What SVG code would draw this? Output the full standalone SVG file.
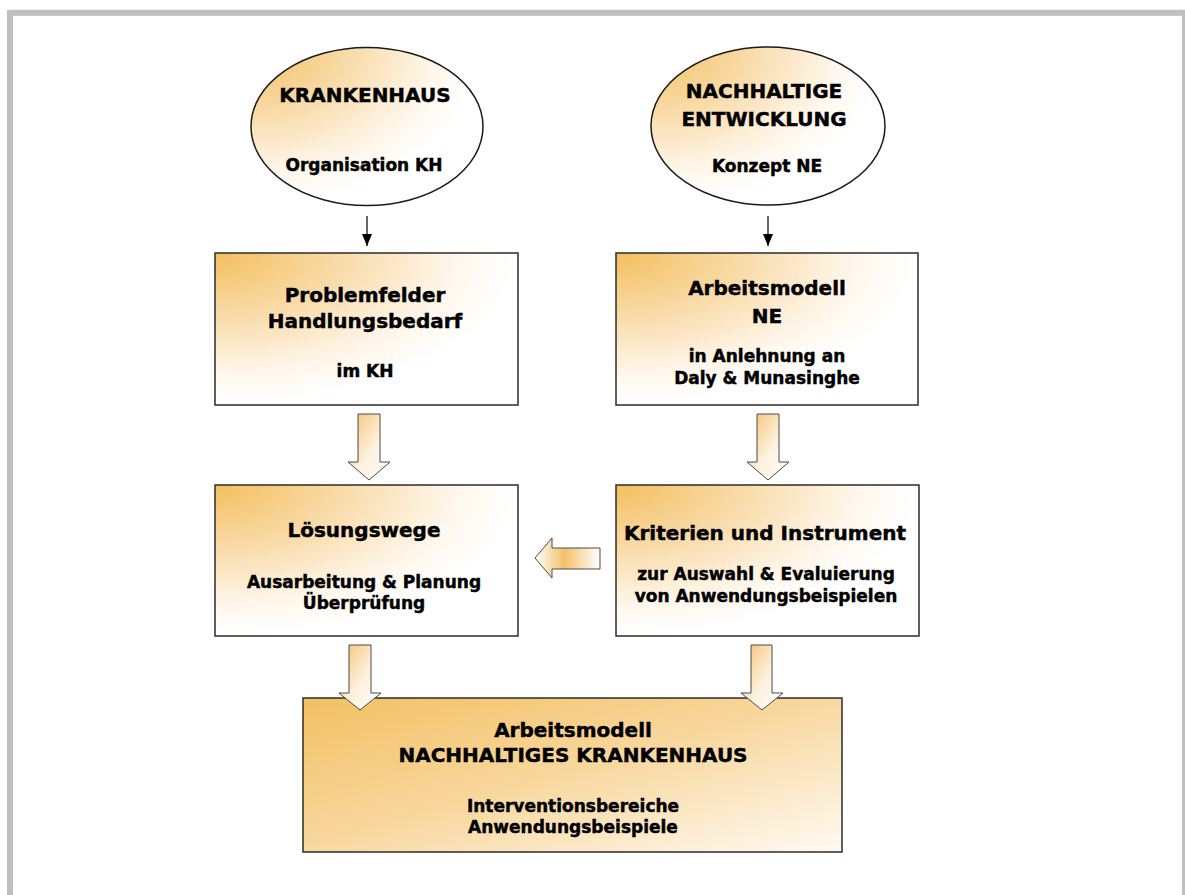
<svg xmlns="http://www.w3.org/2000/svg" width="1185" height="895" viewBox="0 0 1185 895">
  <defs>
    <radialGradient id="cornerFill" cx="0" cy="0" r="1" fx="0" fy="0">
      <stop offset="0" stop-color="#F3BF5E"/>
      <stop offset="0.45" stop-color="#F9DDAE"/>
      <stop offset="0.8" stop-color="#FFF7EC"/>
      <stop offset="1" stop-color="#FFFFFF"/>
    </radialGradient>
    <linearGradient id="mainFill" x1="0" y1="0" x2="1" y2="1">
      <stop offset="0" stop-color="#F2C062"/>
      <stop offset="0.5" stop-color="#F8D8A0"/>
      <stop offset="1" stop-color="#FFFAF2"/>
    </linearGradient>
    <linearGradient id="arrowFillV" x1="0" y1="0" x2="1" y2="1">
      <stop offset="0" stop-color="#F4C06A"/>
      <stop offset="0.55" stop-color="#FDF1DE"/>
      <stop offset="1" stop-color="#FFFFFF"/>
    </linearGradient>
    <linearGradient id="arrowFillH" x1="1" y1="0" x2="0" y2="0">
      <stop offset="0" stop-color="#FFFFFF"/>
      <stop offset="0.55" stop-color="#F4C06A"/>
      <stop offset="1" stop-color="#FFFFFF"/>
    </linearGradient>
    <!-- filled triangular head, drawn along +x so orient="auto" turns it with the line -->
    <marker id="head" viewBox="0 0 12 10" refX="12" refY="5" markerWidth="12" markerHeight="10" markerUnits="userSpaceOnUse" orient="auto">
      <path d="M0 0 L12 5 L0 10 Z" fill="#000"/>
    </marker>
  </defs>
  <style>
    .frame { fill: #FFFFFF; stroke: #C0C0C0; stroke-width: 6; }
    .box { fill: url(#cornerFill); stroke: #2B2B2B; stroke-width: 1.5; }
    .mainbox { fill: url(#mainFill); stroke: #2B2B2B; stroke-width: 1.5; }
    .oval { fill: url(#cornerFill); stroke: #1A1A1A; stroke-width: 1.5; }
    .blockV { fill: url(#arrowFillV); stroke: #4A4A4A; stroke-width: 1; }
    .blockH { fill: url(#arrowFillH); stroke: #4A4A4A; stroke-width: 1; }
    .thin { stroke: #000; stroke-width: 1.2; fill: none; }
    text { font-family: "DejaVu Sans", Verdana, sans-serif; font-weight: bold; fill: #000; stroke: #000; stroke-width: 0.45; text-anchor: middle; }
    .t { font-size: 20px; }
    .s { font-size: 17px; }
  </style>

  <rect class="frame" x="10" y="12.8" width="1175" height="900"/>

  <!-- upper ovals -->
  <g id="krankenhaus">
    <ellipse class="oval" cx="367" cy="126.5" rx="116" ry="79"/>
    <text class="t" x="365" y="102">KRANKENHAUS</text>
    <text class="s" x="364" y="171">Organisation KH</text>
  </g>
  <g id="nachhaltige-entwicklung">
    <ellipse class="oval" cx="768" cy="126" rx="117" ry="79"/>
    <text class="t" x="764" y="98">NACHHALTIGE</text>
    <text class="t" x="764" y="126">ENTWICKLUNG</text>
    <text class="s" x="767" y="172">Konzept NE</text>
  </g>

  <!-- middle row -->
  <g id="problemfelder">
    <rect class="box" x="215" y="253" width="303" height="152"/>
    <text class="t" x="365" y="302">Problemfelder</text>
    <text class="t" x="365" y="328">Handlungsbedarf</text>
    <text class="s" x="365" y="377">im KH</text>
  </g>
  <g id="arbeitsmodell-ne">
    <rect class="box" x="616" y="253" width="302" height="152"/>
    <text class="t" x="767" y="295">Arbeitsmodell</text>
    <text class="t" x="767" y="323">NE</text>
    <text class="s" x="767" y="362">in Anlehnung an</text>
    <text class="s" x="767" y="384">Daly &amp; Munasinghe</text>
  </g>

  <g id="loesungswege">
    <rect class="box" x="215" y="485" width="303" height="151"/>
    <text class="t" x="364" y="537">Lösungswege</text>
    <text class="s" x="364" y="588">Ausarbeitung &amp; Planung</text>
    <text class="s" x="364" y="609">Überprüfung</text>
  </g>
  <g id="kriterien">
    <rect class="box" x="616" y="485" width="303" height="151"/>
    <text class="t" x="765" y="540">Kriterien und Instrument</text>
    <text class="s" x="766" y="580">zur Auswahl &amp; Evaluierung</text>
    <text class="s" x="766" y="602">von Anwendungsbeispielen</text>
  </g>

  <!-- result -->
  <g id="nachhaltiges-krankenhaus">
    <rect class="mainbox" x="303" y="698" width="539" height="154"/>
    <text class="t" x="573" y="737">Arbeitsmodell</text>
    <text class="t" x="573" y="762">NACHHALTIGES KRANKENHAUS</text>
    <text class="s" x="573" y="812">Interventionsbereiche</text>
    <text class="s" x="573" y="833">Anwendungsbeispiele</text>
  </g>

  <!-- connectors -->
  <g id="connectors">
    <line class="thin" x1="367" y1="216" x2="367" y2="246" marker-end="url(#head)"/>
    <line class="thin" x1="768" y1="216" x2="768" y2="246" marker-end="url(#head)"/>

    <path class="blockV" d="M358 414 L380 414 L380 462 L390 462 L369 480 L348 462 L358 462 Z"/>
    <path class="blockV" d="M757 414 L779 414 L779 462 L789 462 L768 480 L747 462 L757 462 Z"/>

    <path class="blockH" d="M600 548 L552 548 L552 538 L535 558 L552 578 L552 569 L600 569 Z"/>

    <path class="blockV" d="M349 645 L371 645 L371 693 L381 693 L360 710 L339 693 L349 693 Z"/>
    <path class="blockV" d="M751 645 L772 645 L772 693 L783 693 L762 710 L741 693 L751 693 Z"/>
  </g>
</svg>
